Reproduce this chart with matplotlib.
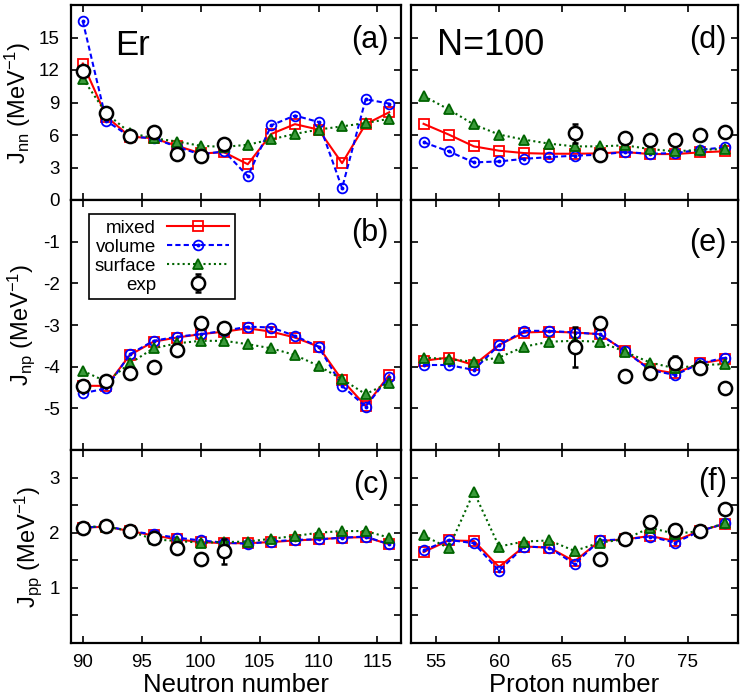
import numpy as np
import matplotlib
matplotlib.use("Agg")
import matplotlib.pyplot as plt
from matplotlib.ticker import MultipleLocator
from matplotlib.legend_handler import HandlerTuple

plt.rcParams["font.family"] = ["Liberation Sans", "DejaVu Sans"]
plt.rcParams["mathtext.fontset"] = "custom"
plt.rcParams["mathtext.rm"] = "Liberation Sans"
plt.rcParams["mathtext.it"] = "Liberation Sans"
plt.rcParams["axes.unicode_minus"] = False

# ---- Er isotopes (left column) ----
N_er = [90, 92, 94, 96, 98, 100, 102, 104, 106, 108, 110, 112, 114, 116]
N_exp = [90, 92, 94, 96, 98, 100, 102]

jnn_mixed_er = [12.6, 7.7, 5.85, 5.7, 5.0, 4.3, 4.4, 3.3, 6.1, 7.0, 6.5, 3.4, 7.0, 8.1]
jnn_volume_er = [16.5, 7.3, 5.85, 5.7, 4.9, 4.2, 4.5, 2.2, 6.9, 7.8, 7.2, 1.1, 9.3, 8.9]
jnn_surface_er = [11.2, 8.0, 6.2, 5.7, 5.4, 5.0, 4.9, 5.1, 5.6, 6.1, 6.5, 6.8, 7.1, 7.5]
jnn_exp_er = [11.9, 8.0, 5.9, 6.3, 4.25, 4.1, 5.2]
jnn_err_er = [0.3, 0.1, 0.05, 0.1, 0.05, 0.05, 0.1]

jnp_mixed_er = [-4.46, -4.46, -3.72, -3.40, -3.30, -3.22, -3.16, -3.08, -3.16, -3.30, -3.52, -4.32, -4.94, -4.20]
jnp_volume_er = [-4.64, -4.52, -3.70, -3.38, -3.28, -3.22, -3.14, -3.04, -3.06, -3.26, -3.52, -4.46, -4.96, -4.24]
jnp_surface_er = [-4.10, -4.36, -3.92, -3.56, -3.44, -3.38, -3.38, -3.46, -3.56, -3.72, -3.98, -4.30, -4.66, -4.38]
jnp_exp_er = [-4.46, -4.34, -4.14, -4.00, -3.60, -2.94, -3.06]
jnp_err_er = [0.12, 0.08, 0.03, 0.03, 0.03, 0.03, 0.05]

jpp_mixed_er = [2.09, 2.11, 2.03, 1.95, 1.88, 1.83, 1.81, 1.81, 1.83, 1.86, 1.88, 1.91, 1.92, 1.79]
jpp_volume_er = [2.09, 2.12, 2.03, 1.97, 1.91, 1.86, 1.82, 1.80, 1.84, 1.87, 1.88, 1.91, 1.93, 1.79]
jpp_surface_er = [2.11, 2.11, 2.03, 1.88, 1.85, 1.82, 1.83, 1.84, 1.89, 1.94, 2.00, 2.03, 2.03, 1.91]
jpp_exp_er = [2.08, 2.12, 2.03, 1.90, 1.73, 1.52, 1.66]
jpp_err_er = [0.07, 0.07, 0.02, 0.02, 0.02, 0.02, 0.22]

# ---- N = 100 isotones (right column) ----
Z_n100 = [54, 56, 58, 60, 62, 64, 66, 68, 70, 72, 74, 76, 78]
Z_exp = [66, 68, 70, 72, 74, 76, 78]
Z_exp_pp = [68, 70, 72, 74, 76, 78]

jnn_mixed_n100 = [7.03, 6.04, 4.95, 4.55, 4.33, 4.27, 4.27, 4.3, 4.43, 4.24, 4.24, 4.4, 4.5]
jnn_volume_n100 = [5.33, 4.49, 3.47, 3.56, 3.8, 3.96, 4.09, 4.18, 4.43, 4.27, 4.33, 4.64, 4.86]
jnn_surface_n100 = [9.6, 8.36, 6.97, 6.04, 5.57, 5.2, 4.95, 4.95, 5.05, 4.7, 4.49, 4.64, 4.7]
jnn_exp_n100 = [6.15, 4.12, 5.73, 5.57, 5.5, 6.0, 6.28]
jnn_err_n100 = [0.9, 0.05, 0.05, 0.05, 0.05, 0.05, 0.05]

jnp_mixed_n100 = [-3.86, -3.78, -3.96, -3.48, -3.18, -3.16, -3.18, -3.22, -3.62, -4.06, -4.16, -3.92, -3.82]
jnp_volume_n100 = [-3.96, -3.96, -4.08, -3.48, -3.14, -3.14, -3.18, -3.22, -3.62, -4.08, -4.20, -3.92, -3.78]
jnp_surface_n100 = [-3.78, -3.82, -3.88, -3.78, -3.52, -3.40, -3.38, -3.40, -3.64, -3.90, -4.04, -3.96, -3.94]
jnp_exp_n100 = [-3.52, -2.94, -4.22, -4.14, -3.90, -4.04, -4.52]
jnp_err_n100 = [0.48, 0.03, 0.03, 0.12, 0.16, 0.03, 0.03]

jpp_mixed_n100 = [1.65, 1.86, 1.85, 1.38, 1.75, 1.73, 1.48, 1.85, 1.88, 1.94, 1.85, 2.04, 2.16]
jpp_volume_n100 = [1.68, 1.87, 1.81, 1.31, 1.75, 1.73, 1.43, 1.86, 1.88, 1.93, 1.82, 2.03, 2.17]
jpp_surface_n100 = [1.95, 1.72, 2.74, 1.75, 1.84, 1.86, 1.67, 1.82, 1.88, 2.09, 1.98, 2.03, 2.18]
jpp_exp_n100 = [1.52, 1.88, 2.20, 2.05, 2.03, 2.43]
jpp_err_n100 = [0.02, 0.02, 0.10, 0.10, 0.08, 0.02]

RED = "#ff0000"
BLUE = "#0000ff"
GREEN = "#006400"


def draw(ax, x, mixed, volume, surface, xe, ye, err):
    h1, = ax.plot(x, mixed, color=RED, lw=1.5, marker="s", ms=7,
                  mfc="none", mec=RED, mew=1.3)
    h2, = ax.plot(x, volume, color=BLUE, lw=1.5, ls=(0, (2.5, 1.5)), marker="o",
                  ms=7, mfc="none", mec=BLUE, mew=1.3)
    h2d, = ax.plot(x, volume, ls="none", marker="o", ms=1.8, color=BLUE)
    h3, = ax.plot(x, surface, color=GREEN, lw=1.5, ls=(0, (1, 1.5)), marker="^",
                  ms=6.5, mfc="#3a9a3a", mec=GREEN, mew=1.3)
    h4 = ax.errorbar(xe, ye, yerr=err, fmt="o", ms=9.5, mfc="white", mec="black",
                     mew=1.8, ecolor="black", elinewidth=1.4, capsize=2.5,
                     capthick=1.4, zorder=5)
    return [h1, (h2, h2d), h3, h4]


fig = plt.figure(figsize=(7.47, 7.0), dpi=100)
W, H = 747.0, 700.0
cols = [(71, 401), (411, 738)]
rows = [(5, 200), (200, 450), (450, 643)]
axes = {}
for c, (x0, x1) in enumerate(cols):
    for r, (y0, y1) in enumerate(rows):
        axes[(r, c)] = fig.add_axes([x0 / W, 1 - y1 / H, (x1 - x0) / W, (y1 - y0) / H])

left = [
    (jnn_mixed_er, jnn_volume_er, jnn_surface_er, jnn_exp_er, jnn_err_er, N_exp),
    (jnp_mixed_er, jnp_volume_er, jnp_surface_er, jnp_exp_er, jnp_err_er, N_exp),
    (jpp_mixed_er, jpp_volume_er, jpp_surface_er, jpp_exp_er, jpp_err_er, N_exp),
]
right = [
    (jnn_mixed_n100, jnn_volume_n100, jnn_surface_n100, jnn_exp_n100, jnn_err_n100, Z_exp),
    (jnp_mixed_n100, jnp_volume_n100, jnp_surface_n100, jnp_exp_n100, jnp_err_n100, Z_exp),
    (jpp_mixed_n100, jpp_volume_n100, jpp_surface_n100, jpp_exp_n100, jpp_err_n100, Z_exp_pp),
]

handles = None
for r in range(3):
    m, v, s, e, er, xe = left[r]
    hh = draw(axes[(r, 0)], N_er, m, v, s, xe, e, er)
    if r == 1:
        handles = hh
    m, v, s, e, er, xe = right[r]
    draw(axes[(r, 1)], Z_n100, m, v, s, xe, e, er)

ylims = [(0, 18), (-6, 0), (0, 3.5)]
yticks = [[0, 3, 6, 9, 12, 15], [-5, -4, -3, -2, -1], [1, 2, 3]]
ylabels = ["J$_{\\rm nn}$ (MeV$^{-1}$)", "J$_{\\rm np}$ (MeV$^{-1}$)", "J$_{\\rm pp}$ (MeV$^{-1}$)"]
panel = [["(a)", "(d)"], ["(b)", "(e)"], ["(c)", "(f)"]]
panel_y = [[0.82, 0.82], [0.868, 0.828], [0.82, 0.834]]

for (r, c), ax in axes.items():
    ax.set_ylim(*ylims[r])
    ax.set_yticks(yticks[r])
    if c == 0:
        ax.set_xlim(89, 117)
        ax.set_xticks([90, 95, 100, 105, 110, 115])
        ax.set_ylabel(ylabels[r], fontsize=17, labelpad=4)
    else:
        ax.set_xlim(53, 79)
        ax.set_xticks([55, 60, 65, 70, 75])
        ax.tick_params(labelleft=False)
    if r == 2:
        ax.yaxis.set_minor_locator(MultipleLocator(0.5))
    ax.tick_params(which="both", direction="in", top=True, right=True,
                   length=5, width=1.2, labelsize=13.5, pad=8)
    if r < 2:
        ax.tick_params(labelbottom=False)
    for sp in ax.spines.values():
        sp.set_linewidth(1.6)
    ax.text(0.962 if c == 0 else 0.966, panel_y[r][c], panel[r][c],
            transform=ax.transAxes, ha="right", va="center", fontsize=22)

axes[(0, 0)].text(0.133, 0.79, "Er", transform=axes[(0, 0)].transAxes,
                  ha="left", va="center", fontsize=25)
axes[(0, 1)].text(0.08, 0.79, "N=100", transform=axes[(0, 1)].transAxes,
                  ha="left", va="center", fontsize=26)

axes[(2, 0)].set_xlabel("Neutron number", fontsize=18.5, labelpad=1)
axes[(2, 1)].set_xlabel("Proton number", fontsize=18.5, labelpad=1)

leg = axes[(1, 0)].legend(handles, ["mixed", "volume", "surface", "exp"],
                          loc="upper left", bbox_to_anchor=(0.055, 0.945),
                          borderaxespad=0, markerfirst=False, fontsize=13.5,
                          handlelength=3.3, handletextpad=0.6, labelspacing=0.1,
                          borderpad=0.3, fancybox=False, edgecolor="black",
                          framealpha=1,
                          handler_map={tuple: HandlerTuple(ndivide=1, pad=0)})
leg.get_frame().set_linewidth(1.2)

fig.savefig("out.png", dpi=100)
